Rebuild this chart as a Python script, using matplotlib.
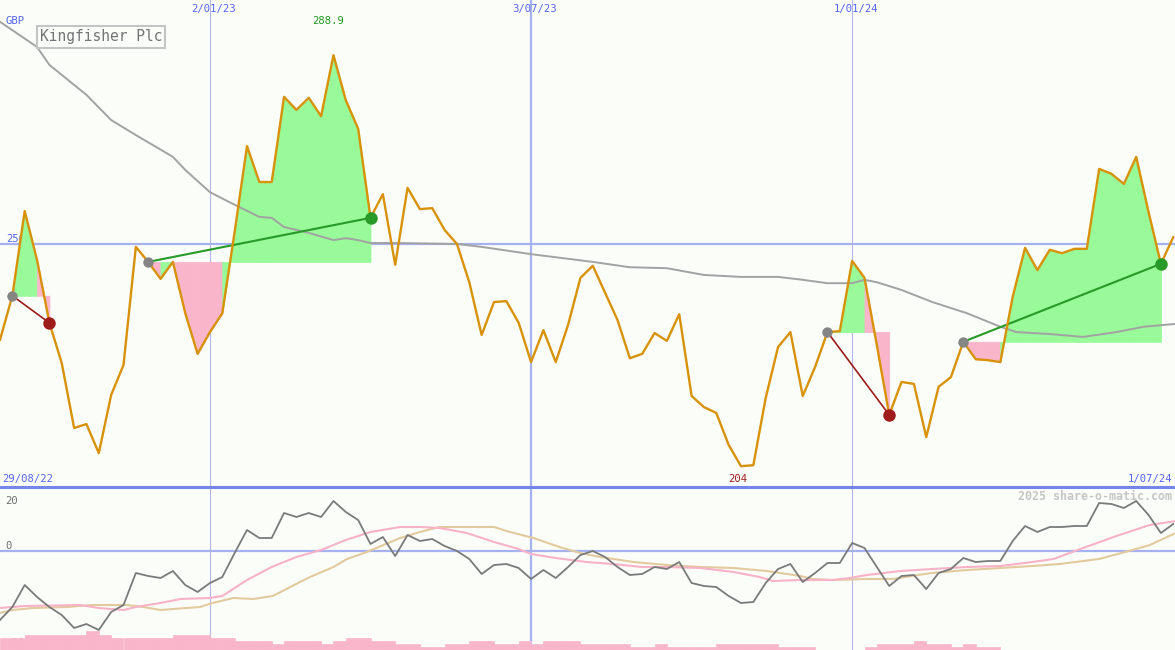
import numpy as np
import matplotlib
matplotlib.use('Agg')
import matplotlib.pyplot as plt

W, H = 1175, 650
BG = '#FBFDF9'
MONO = 'DejaVu Sans Mono'

# weekly closes (GBp), week 0 = 5/09/22 ... week 95 = 1/07/24
price = [230.1, 239.2, 256.7, 246.6, 233.6, 225.3, 211.9, 212.7, 206.7, 218.7,
         224.9, 249.3, 246.2, 242.7, 246.2, 235.6, 227.2, 231.7, 235.6, 252.4,
         270.1, 262.7, 262.7, 280.3, 277.6, 280.1, 276.3, 288.9, 279.6, 273.7,
         255.3, 260.2, 245.6, 261.5, 257.1, 257.3, 252.8, 249.9, 242.0, 231.1,
         237.9, 238.1, 233.6, 225.5, 232.1, 225.5, 233.2, 242.9, 245.4, 239.8,
         234.2, 226.3, 227.2, 231.5, 229.9, 235.4, 218.5, 216.2, 215.0, 208.4,
         204.0, 204.2, 218.1, 228.6, 231.7, 218.5, 224.5, 231.7, 231.9, 246.4,
         242.9, 229.0, 214.6, 221.4, 221.0, 210.0, 220.4, 222.4, 229.7, 226.1,
         225.9, 225.5, 239.0, 249.1, 244.5, 248.7, 248.0, 248.9, 248.9, 265.4,
         264.4, 262.3, 267.9, 256.5, 245.8, 251.3]

# long moving average (knots)
long_ma_wk = [0, 3, 4, 7, 9, 11, 14, 15, 17, 19, 21, 22, 23, 25, 27, 28, 29, 30,
              32, 37, 39, 43, 48, 51, 54, 57, 60, 63, 65, 67, 69, 70, 71, 73, 75.5,
              78.3, 81, 82.3, 85, 87.7, 90.4, 92.6, 95.2]
long_ma = [295.8, 290.6, 286.9, 280.7, 275.5, 272.4, 267.9, 265.2, 260.6, 258.0,
           255.5, 255.3, 253.4, 252.2, 250.7, 251.1, 250.7, 250.1, 250.1, 249.9,
           249.3, 247.8, 246.2, 245.1, 244.9, 243.5, 243.1, 243.1, 242.5, 241.8,
           241.8, 242.5, 242.0, 240.4, 237.9, 235.6, 232.8, 231.7, 231.3, 230.7,
           231.7, 232.8, 233.4]

# trades: (entry week, exit week)
trades = [(1, 4), (12, 30), (67, 72), (78, 94)]

# momentum indicator
momentum = [-27.6, -22.4, -13.6, -18.4, -22.4, -25.6, -30.8, -29.2, -31.6, -24.4,
            -21.6, -8.8, -10.0, -10.8, -8.0, -13.6, -16.4, -12.8, -10.4, -0.8,
            8.4, 5.2, 5.2, 15.2, 13.6, 15.2, 13.6, 20.0, 15.6, 12.4,
            2.8, 5.6, -2.0, 6.4, 4.0, 4.8, 2.0, 0.0, -3.2, -9.2,
            -5.6, -5.2, -6.8, -11.2, -7.6, -10.8, -6.4, -1.6, 0.0, -2.4,
            -6.4, -9.6, -9.2, -6.4, -7.2, -4.4, -12.8, -14.0, -14.4, -18.0,
            -20.8, -20.4, -12.8, -7.2, -5.2, -12.4, -8.8, -4.8, -4.8, 3.2,
            1.2, -6.4, -14.0, -10.0, -9.6, -15.2, -8.8, -7.2, -2.8, -4.4,
            -4.0, -4.0, 4.0, 10.0, 7.6, 9.6, 9.6, 10.0, 10.0, 19.2,
            18.8, 17.2, 20.0, 14.4, 7.2, 10.8]

fast_wk = [0, 1, 2, 6.5, 8, 10, 11, 13, 14.6, 17, 18, 20, 22, 24, 26, 28, 30,
           32.4, 34, 35.6, 37.8, 40, 42, 43, 45, 47.5, 49.6, 52, 54, 56.7, 59.4,
           61.5, 62.6, 64.8, 67.4, 68.8, 70.2, 72.9, 75.5, 78.3, 81, 83.6, 85.3,
           87.7, 90.4, 93.1, 95.2]
fast_ma = [-22.8, -22.4, -22.0, -21.6, -22.8, -23.6, -22.4, -20.8, -19.2, -18.8,
           -18.0, -11.6, -6.4, -2.4, 0.4, 4.4, 7.6, 9.6, 9.6, 9.2, 7.2, 3.6, 0.8,
           -1.2, -2.8, -4.4, -5.2, -6.4, -6.4, -6.8, -8.4, -10.4, -12.0, -11.6,
           -11.6, -10.8, -9.6, -8.0, -7.2, -6.4, -6.0, -4.4, -3.2, 1.2, 6.0, 10.4,
           12.0]

slow_wk = [0, 1, 2.7, 5.4, 7.5, 10.3, 11.6, 13, 15.1, 16.2, 17.2, 18.9, 20.5, 22.1,
           23.5, 25.1, 27, 28.1, 29.7, 32.4, 34, 35.6, 37.2, 40, 41.3, 43.2, 45.3,
           47, 48.6, 51.3, 54, 56.7, 59.4, 62.1, 64.8, 65.8, 67.4, 70.2, 72.3, 74.3,
           75.5, 78.3, 81, 83.6, 85.8, 89, 91.7, 93.1, 95.2]
slow_ma = [-24.8, -23.6, -22.8, -22.4, -21.6, -21.6, -22.4, -23.6, -22.8, -22.4,
           -20.8, -18.8, -19.2, -18.0, -14.4, -10.4, -6.4, -3.2, -0.4, 5.2, 7.6,
           9.6, 9.6, 9.6, 7.6, 5.2, 1.6, -0.8, -2.4, -4.4, -5.6, -6.4, -6.8, -8.0,
           -10.0, -11.2, -11.6, -11.2, -11.2, -9.6, -8.8, -7.6, -6.8, -6.0, -5.2,
           -3.2, 0.4, 2.4, 7.2]

# weekly volume (millions)
volume = [24, 24, 30, 30, 30, 30, 30, 38, 30, 24, 24, 24, 24, 24, 30, 30, 30, 24,
          24, 18, 18, 18, 12, 18, 18, 18, 12, 18, 24, 24, 18, 18, 12, 12, 6, 6,
          12, 12, 18, 18, 12, 12, 18, 12, 18, 18, 18, 12, 12, 12, 12, 6, 6, 12,
          6, 6, 6, 6, 12, 12, 12, 12, 12, 6, 6, 6, 0, 0, 0, 0, 6, 12, 12, 12,
          18, 12, 12, 6, 12, 6, 6, 0, 0, 0, 0, 0, 0, 0, 0, 0, 0, 0, 0, 0, 0, 0]

date_weeks = [17, 43, 69]
date_labels = ['2/01/23', '3/07/23', '1/01/24']
date_widths = [0.8, 1.6, 0.8]

weeks = np.arange(len(price))
xmax = W / 12.35

fig = plt.figure(figsize=(W / 100, H / 100), dpi=100, facecolor=BG)
top = fig.add_axes([0, 163 / H, 1, 487 / H])
bot = fig.add_axes([0, 0, 1, 163 / H])
for a in (top, bot):
    a.set_xlim(0, xmax)
    a.axis('off')
top.set_ylim(199.7, 300.3)
bot.set_ylim(-39.6, 25.6)

grid_c = '#A6B2F0'
top.axhline(250, color=grid_c, lw=1.6, zorder=0.5)
for wk, lw in zip(date_weeks, date_widths):
    c = grid_c if lw > 1 else '#B2B6E6'
    top.axvline(wk, color=c, lw=lw, zorder=0.5)
    bot.axvline(wk, color=c, lw=lw, zorder=0.5)

# trade fills
for i0, i1 in trades:
    base = price[i0]
    for k in range(i0, i1):
        col = '#98FA98' if price[k + 1] >= base else '#F9B6CB'
        top.fill_between([k, k + 1], price[k:k + 2], base, facecolor=col,
                         edgecolor=col, lw=0.6, zorder=1)

top.plot(long_ma_wk, long_ma, color='#A2A2A2', lw=1.4, zorder=2)

for i0, i1 in trades:
    win = price[i1] > price[i0]
    lc = '#279A27' if win else '#9C1C1C'
    top.plot([i0, i1], [price[i0], price[i1]], color=lc, lw=1.5 if win else 1.2, zorder=3)

top.plot(weeks, price, color='#D8920A', lw=1.7, zorder=4)

for i0, i1 in trades:
    win = price[i1] > price[i0]
    top.plot(i0, price[i0], 'o', ms=7.5, color='#858585', mec='none', zorder=5)
    top.plot(i1, price[i1], 'o', ms=9, color='#289A28' if win else '#A01C1C',
             mec='none', zorder=5)

# labels on price panel
blue = '#5566F2'
for wk, lab in zip(date_weeks, date_labels):
    top.text(wk + 0.28, 0.982, lab, transform=top.get_xaxis_transform(),
             ha='center', va='center', color=blue, fontsize=7.6, family=MONO)
top.text(6 / W, 1 - 21 / 487, 'GBP', transform=top.transAxes, ha='left', va='center',
         color=blue, fontsize=7.6, family=MONO)
top.text(6 / W, 250, '250', transform=top.get_yaxis_transform(), ha='left',
         va='bottom', color=blue, fontsize=7.6, family=MONO, zorder=0.6)
top.text(2 / W, 1 - 479 / 487, '29/08/22', transform=top.transAxes, ha='left',
         va='center', color=blue, fontsize=7.6, family=MONO)
top.text(1172 / W, 1 - 479 / 487, '1/07/24', transform=top.transAxes, ha='right',
         va='center', color=blue, fontsize=7.6, family=MONO)
imax = int(np.argmax(price))
imin = int(np.argmin(price))
top.text(imax - 0.45, 1 - 21 / 487, f'{price[imax]:.1f}',
         transform=top.get_xaxis_transform(), ha='center', va='center',
         color='#1E9A1E', fontsize=7.6, family=MONO)
top.text(imin - 0.3, 1 - 479 / 487, f'{price[imin]:.0f}',
         transform=top.get_xaxis_transform(), ha='center', va='center',
         color='#A01C1C', fontsize=7.6, family=MONO)
top.text(101 / W, 1 - 37 / 487, 'Kingfisher Plc', transform=top.transAxes,
         ha='center', va='center', color='#747474', fontsize=10.5, family=MONO,
         bbox=dict(boxstyle='square,pad=0.22', fc=BG, ec='#C4C4C4', lw=1.5), zorder=6)

# indicator panel
bot.axhline(0, color=grid_c, lw=1.6, zorder=0.5)
bot.plot(slow_wk, slow_ma, color='#E2CA9E', lw=1.5, zorder=2)
bot.plot(fast_wk, fast_ma, color='#F8B2C8', lw=1.5, zorder=2)
bot.plot(weeks, momentum, color='#7A7A7A', lw=1.3, zorder=3)
bot.axhline(25.6, color='#7585EC', lw=2.2, clip_on=False, zorder=6)

vax = bot.twinx()
vax.axis('off')
vax.set_ylim(0, 326)
vax.bar(weeks, volume, width=1, align='edge', color='#F9B6CB', ec='#F9B6CB', lw=0.5)

gray = '#6E6E6E'
bot.text(5 / W, 20, '20', ha='left', va='center', color=gray, fontsize=7.6,
         family=MONO, transform=bot.get_yaxis_transform())
bot.text(5 / W, 0, '0', ha='left', va='bottom', color=gray, fontsize=7.6,
         family=MONO, transform=bot.get_yaxis_transform())
bot.text(5 / W, 7 / 163, '-30', ha='left', va='center', color=gray, fontsize=7.6,
         family=MONO, transform=bot.transAxes, zorder=7)
bot.text(1172 / W, 1 - 9 / 163, '2025 share-o-matic.com', ha='right', va='center',
         color='#C6C6C6', fontsize=8.4, family=MONO, fontweight='bold',
         transform=bot.transAxes)

fig.savefig('out.png', dpi=100, facecolor=BG)
